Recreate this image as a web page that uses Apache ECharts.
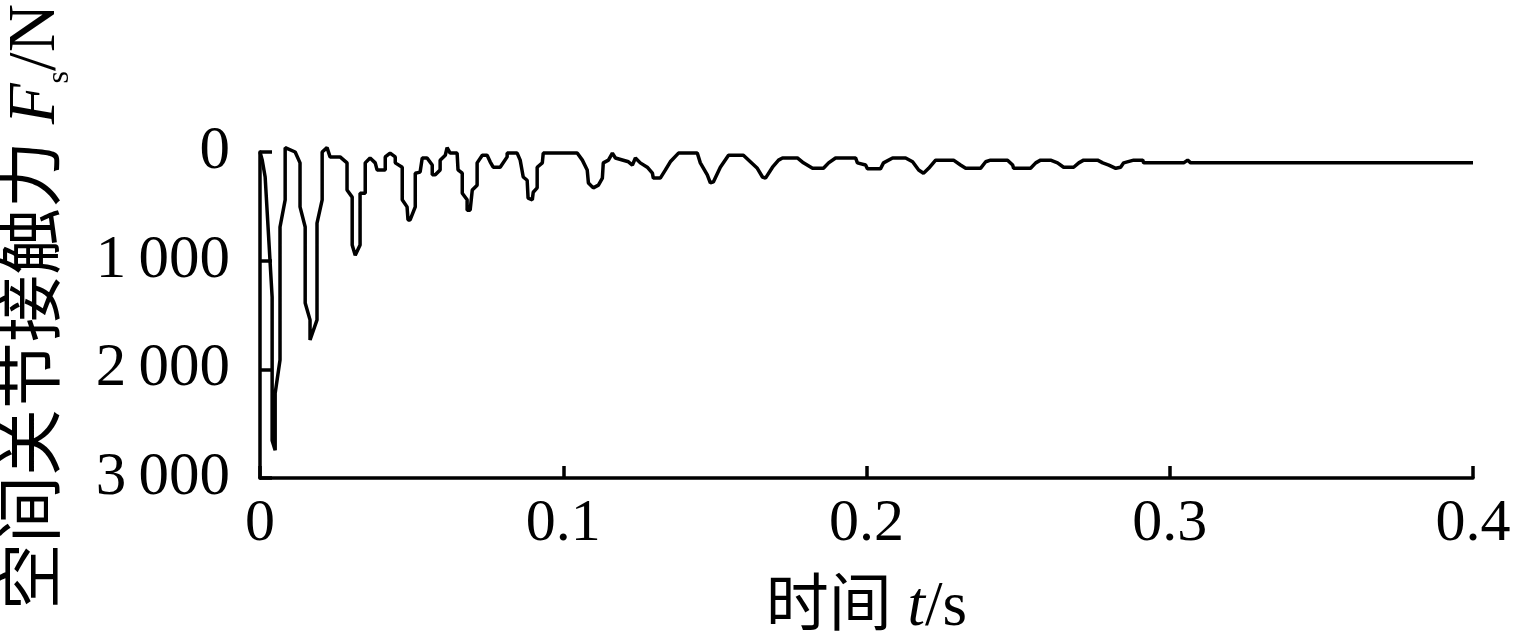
<!DOCTYPE html>
<html>
<head>
<meta charset="utf-8">
<script src="https://cdn.jsdelivr.net/npm/echarts@6/dist/echarts.min.js"></script>
<style>html,body{margin:0;padding:0;background:#fff;}#c{width:1514px;height:632px;}</style>
</head>
<body>
<div id="c"></div>
<script>
const time = [
  0, 0.0007, 0.0017, 0.0040, 0.0040, 0.0050, 0.0050, 0.0066, 0.0066, 0.0083,
  0.0083, 0.0116, 0.0132, 0.0132, 0.0149, 0.0149, 0.0165, 0.0165, 0.0188, 0.0188,
  0.0205, 0.0205, 0.0221, 0.0231, 0.0264, 0.0287, 0.0287, 0.0304, 0.0304, 0.0314,
  0.0330, 0.0330, 0.0347, 0.0347, 0.0363, 0.0380, 0.0386, 0.0413, 0.0413, 0.0429,
  0.0446, 0.0446, 0.0469, 0.0469, 0.0485, 0.0488, 0.0495, 0.0512, 0.0512, 0.0528,
  0.0535, 0.0551, 0.0568, 0.0568, 0.0578, 0.0594, 0.0594, 0.0611, 0.0617, 0.0627,
  0.0650, 0.0653, 0.0667, 0.0667, 0.0683, 0.0683, 0.0693, 0.0700, 0.0716, 0.0716,
  0.0733, 0.0749, 0.0759, 0.0769, 0.0792, 0.0815, 0.0815, 0.0848, 0.0858, 0.0868,
  0.0881, 0.0884, 0.0898, 0.0901, 0.0914, 0.0914, 0.0931, 0.0934, 0.1046, 0.1063,
  0.1079, 0.1083, 0.1099, 0.1116, 0.1129, 0.1132, 0.1149, 0.1162, 0.1172, 0.1215,
  0.1228, 0.1238, 0.1254, 0.1277, 0.1294, 0.1297, 0.1320, 0.1337, 0.1353, 0.1380,
  0.1442, 0.1452, 0.1475, 0.1485, 0.1495, 0.1518, 0.1545, 0.1594, 0.1617, 0.1640,
  0.1657, 0.1667, 0.1690, 0.1710, 0.1723, 0.1772, 0.1792, 0.1822, 0.1858, 0.1875,
  0.1898, 0.1964, 0.1970, 0.1997, 0.2003, 0.2046, 0.2056, 0.2086, 0.2129, 0.2152,
  0.2172, 0.2188, 0.2205, 0.2228, 0.2287, 0.2310, 0.2327, 0.2376, 0.2393, 0.2409,
  0.2465, 0.2482, 0.2485, 0.2541, 0.2558, 0.2574, 0.2607, 0.2630, 0.2650, 0.2683,
  0.2700, 0.2716, 0.2762, 0.2779, 0.2799, 0.2822, 0.2838, 0.2848, 0.2881, 0.2911,
  0.2914, 0.3046, 0.3059, 0.3069, 0.4000
];
const force = [
  0, 70, 230, 1335, 2655, 2745, 2220, 1915, 690, 440,
  -40, 0, 100, 505, 690, 1390, 1545, 1730, 1545, 655,
  440, 0, -40, 45, 45, 100, 350, 415, 855, 950,
  855, 380, 380, 100, 55, 100, 165, 165, 45, 10,
  45, 100, 140, 440, 505, 625, 625, 505, 195, 185,
  55, 55, 120, 210, 210, 165, 75, 30, -40, 10,
  10, 165, 195, 380, 440, 535, 535, 350, 305, 100,
  30, 30, 90, 140, 140, 45, 10, 10, 75, 230,
  260, 425, 440, 370, 330, 140, 100, 10, 10, 75,
  165, 285, 330, 305, 240, 100, 75, 10, 55, 90,
  120, 55, 100, 140, 195, 240, 240, 165, 90, 10,
  10, 100, 210, 285, 275, 140, 30, 30, 90, 150,
  230, 240, 140, 75, 55, 55, 100, 150, 150, 100,
  55, 55, 100, 120, 155, 155, 100, 55, 55, 90,
  165, 195, 150, 75, 75, 120, 150, 150, 90, 75,
  75, 120, 150, 150, 100, 75, 75, 100, 140, 140,
  100, 75, 75, 100, 120, 150, 140, 100, 75, 75,
  100, 100, 75, 100, 100
];
const xTickLabels = ['0', '0.1', '0.2', '0.3', '0.4'];
const yTickLabels = ['0', '1\u2009000', '2\u2009000', '3\u2009000'];
const xName = '时间';
const yName = '空间关节接触力';

const serif = "'Liberation Serif', 'Noto Sans CJK SC', serif";
const chart = echarts.init(document.getElementById('c'), null, {renderer: 'canvas'});
const axisLineStyle = {color: '#000', width: 3.5};
const tickStyle = {show: true, inside: true, length: 12, lineStyle: {color: '#000', width: 3.5}};
chart.setOption({
  animation: false,
  backgroundColor: '#fff',
  grid: {left: 260, right: 41, top: 152, bottom: 154, containLabel: false, outerBoundsMode: 'none'},
  xAxis: {
    type: 'value', min: 0, max: 0.4, interval: 0.1, position: 'bottom',
    axisLine: {show: true, onZero: false, lineStyle: axisLineStyle},
    axisTick: tickStyle,
    splitLine: {show: false},
    axisLabel: {
      margin: 16, color: '#000', fontSize: 60, fontFamily: serif,
      formatter: (v, i) => xTickLabels[i]
    },
    name: '{c|' + xName + ' }{i|t}{c|/s}',
    nameLocation: 'middle', nameGap: 99,
    nameTextStyle: {
      rich: {
        c: {fontSize: 63, fontFamily: serif, color: '#000'},
        i: {fontSize: 63, fontFamily: serif, fontStyle: 'italic', color: '#000'}
      }
    }
  },
  yAxis: {
    type: 'value', min: 0, max: 3000, interval: 1000, inverse: true, position: 'left',
    axisLine: {show: true, onZero: false, lineStyle: axisLineStyle},
    axisTick: tickStyle,
    splitLine: {show: false},
    axisLabel: {
      margin: 30, color: '#000', fontSize: 61, fontFamily: serif,
      formatter: (v, i) => yTickLabels[i]
    },
    name: '{c|' + yName + ' }{i|F}{sub|s}{c|/N}',
    nameLocation: 'middle', nameRotate: 90, nameGap: 190, nameTextStyle: {
      padding: [0, 0, 0, 16],
      rich: {
        c: {fontSize: 67, fontFamily: serif, color: '#000', verticalAlign: 'bottom', lineHeight: 72},
        i: {fontSize: 67, fontFamily: serif, fontStyle: 'italic', color: '#000', verticalAlign: 'bottom', lineHeight: 72},
        sub: {fontSize: 32, fontFamily: serif, color: '#000', verticalAlign: 'bottom', lineHeight: 72, padding: [0, 0, -6, 0]}
      }
    }
  },
  series: [{
    type: 'line',
    data: time.map((t, i) => [t, force[i]]),
    symbol: 'none',
    clip: false,
    lineStyle: {color: '#000', width: 3.5},
    z: 3
  }]
});
</script>
</body>
</html>
